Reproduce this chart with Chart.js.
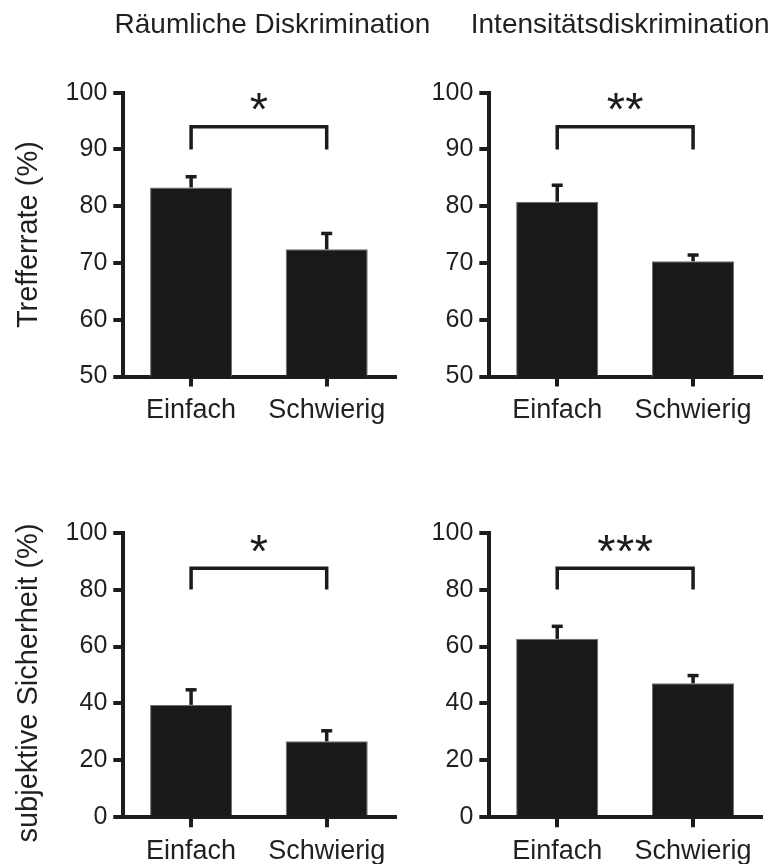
<!DOCTYPE html>
<html>
<head>
<meta charset="utf-8">
<title>Trefferrate und subjektive Sicherheit</title>
<script src="https://cdn.jsdelivr.net/npm/chart.js@4.4.1/dist/chart.umd.min.js"></script>
<style>
  html, body { margin: 0; padding: 0; background: #ffffff; }
  #fig { position: relative; width: 771px; height: 864px; overflow: hidden; background: #ffffff; }
  #fig canvas { position: absolute; }
</style>
</head>
<body>
<div id="fig">
  <canvas id="c0" width="440" height="440" style="left:0px;top:0px"></canvas>
  <canvas id="c1" width="351" height="440" style="left:420px;top:0px"></canvas>
  <canvas id="c2" width="440" height="424" style="left:0px;top:440px"></canvas>
  <canvas id="c3" width="351" height="424" style="left:420px;top:440px"></canvas>
</div>
<script>
// ---- data ----
const categories = ['Einfach', 'Schwierig'];
const columnTitles = ['Räumliche Diskrimination', 'Intensitätsdiskrimination'];
const rowTitles = ['Trefferrate (%)', 'subjektive Sicherheit (%)'];

// Trefferrate (%), mean and SEM
const hitSpatial = [83.3, 72.4];
const hitSpatialSem = [1.9, 2.8];
const hitIntensity = [80.8, 70.3];
const hitIntensitySem = [2.9, 1.1];

// subjektive Sicherheit (%), mean and SEM
const confSpatial = [39.5, 26.7];
const confSpatialSem = [5.3, 3.7];
const confIntensity = [62.7, 47.1];
const confIntensitySem = [4.4, 2.7];

// significance markers and bracket levels (bar height, leg end)
const stars = ['*', '**', '*', '***'];
const hitBracket = [94, 90];
const confBracket = [87.5, 80];

// axis ranges
const hitRange = [50, 100, 10];
const confRange = [0, 100, 20];

// ---- styling ----
const FONT = '"Liberation Sans", Arial, Helvetica, sans-serif';
const INK = '#1c1b1d';
const TEXT = '#231f20';
const BAR = '#19191b';
Chart.defaults.font.family = FONT;
Chart.defaults.color = TEXT;

// error bars, significance bracket, stars and panel captions
const panelMarks = {
  id: 'panelMarks',
  afterDatasetsDraw(chart, args, o) {
    const ctx = chart.ctx;
    const xs = chart.scales.x, ys = chart.scales.y, a = chart.chartArea;
    ctx.save();
    ctx.strokeStyle = INK;
    ctx.lineWidth = 3.5;
    ctx.lineCap = 'butt';
    ctx.lineJoin = 'miter';

    const values = chart.data.datasets[0].data;
    values.forEach((v, i) => {
      const px = xs.getPixelForValue(i);
      const yTop = ys.getPixelForValue(v + o.sem[i]);
      const yBar = ys.getPixelForValue(v);
      ctx.beginPath();
      ctx.moveTo(px, yBar);
      ctx.lineTo(px, yTop);
      ctx.stroke();
      ctx.beginPath();
      ctx.moveTo(px - 5.5, yTop);
      ctx.lineTo(px + 5.5, yTop);
      ctx.stroke();
    });

    const x0 = xs.getPixelForValue(0), x1 = xs.getPixelForValue(1);
    const yb = ys.getPixelForValue(o.bracket[0]);
    const yf = ys.getPixelForValue(o.bracket[1]);
    ctx.beginPath();
    ctx.moveTo(x0, yf);
    ctx.lineTo(x0, yb);
    ctx.lineTo(x1, yb);
    ctx.lineTo(x1, yf);
    ctx.stroke();

    // stars above the bracket
    ctx.fillStyle = INK;
    ctx.font = '47px ' + FONT;
    ctx.textAlign = 'center';
    ctx.textBaseline = 'alphabetic';
    const m = ctx.measureText('*');
    const cy = yb - 25;
    const base = cy + (m.actualBoundingBoxAscent - m.actualBoundingBoxDescent) / 2;
    const n = o.stars.length, gap = 18.7, cx = (x0 + x1) / 2;
    for (let k = 0; k < n; k++) {
      ctx.fillText('*', cx + (k - (n - 1) / 2) * gap, base);
    }

    ctx.fillStyle = TEXT;
    if (o.columnTitle) {
      ctx.font = '28px ' + FONT;
      ctx.textAlign = 'center';
      ctx.textBaseline = 'alphabetic';
      ctx.fillText(o.columnTitle, (a.left + a.right) / 2 + o.columnDx, a.top - 59.7);
    }
    if (o.rowTitle) {
      ctx.save();
      ctx.font = '29px ' + FONT;
      ctx.translate(a.left - 86.6, (a.top + a.bottom) / 2 + o.rowDy);
      ctx.rotate(-Math.PI / 2);
      ctx.textAlign = 'center';
      ctx.textBaseline = 'alphabetic';
      ctx.fillText(o.rowTitle, 0, 0);
      ctx.restore();
    }
    ctx.restore();
  }
};

function makePanel(id, cfg) {
  const [min, max, step] = cfg.range;
  return new Chart(document.getElementById(id), {
    type: 'bar',
    data: {
      labels: categories,
      datasets: [{
        data: cfg.values,
        backgroundColor: BAR,
        borderColor: '#6d6d6d',
        borderWidth: 1,
        barPercentage: 0.605,
        categoryPercentage: 1.0
      }]
    },
    plugins: [panelMarks],
    options: {
      responsive: false,
      animation: false,
      events: [],
      layout: { padding: cfg.padding },
      plugins: {
        legend: { display: false },
        tooltip: { enabled: false },
        title: { display: false },
        panelMarks: {
          sem: cfg.sem,
          bracket: cfg.bracket,
          stars: cfg.stars,
          columnTitle: cfg.columnTitle,
          columnDx: cfg.columnDx || 0,
          rowTitle: cfg.rowTitle,
          rowDy: cfg.rowDy || 0
        }
      },
      scales: {
        x: {
          offset: true,
          afterFit: s => { s.height = cfg.xHeight; },
          border: { display: true, color: INK, width: 4 },
          grid: {
            offset: false, drawOnChartArea: false, drawTicks: true,
            tickLength: 10, lineWidth: 4, color: INK
          },
          ticks: { color: TEXT, font: { size: 27 }, padding: 8, maxRotation: 0 }
        },
        y: {
          min: min, max: max,
          afterFit: s => { s.width = cfg.yWidth; },
          border: { display: true, color: INK, width: 4 },
          grid: {
            drawOnChartArea: false, drawTicks: true,
            tickLength: 10, lineWidth: 4, color: INK
          },
          ticks: { stepSize: step, color: TEXT, font: { size: 25 }, padding: 6 }
        }
      }
    }
  });
}

makePanel('c0', {
  values: hitSpatial, sem: hitSpatialSem, bracket: hitBracket, stars: stars[0],
  range: hitRange, columnTitle: columnTitles[0], columnDx: 13.6, rowTitle: rowTitles[0],
  yWidth: 123.3, xHeight: 50, padding: { top: 92.7, right: 45.5, bottom: 13.5, left: 0 }
});
makePanel('c1', {
  values: hitIntensity, sem: hitIntensitySem, bracket: hitBracket, stars: stars[1],
  range: hitRange, columnTitle: columnTitles[1], columnDx: -5,
  yWidth: 69.3, xHeight: 50, padding: { top: 92.7, right: 10, bottom: 13.5, left: 0 }
});
makePanel('c2', {
  values: confSpatial, sem: confSpatialSem, bracket: confBracket, stars: stars[2],
  range: confRange, rowTitle: rowTitles[1], rowDy: 8,
  yWidth: 123.3, xHeight: 46.7, padding: { top: 92.7, right: 45.5, bottom: 0, left: 0 }
});
makePanel('c3', {
  values: confIntensity, sem: confIntensitySem, bracket: confBracket, stars: stars[3],
  range: confRange,
  yWidth: 69.3, xHeight: 46.7, padding: { top: 92.7, right: 10, bottom: 0, left: 0 }
});
</script>
</body>
</html>
